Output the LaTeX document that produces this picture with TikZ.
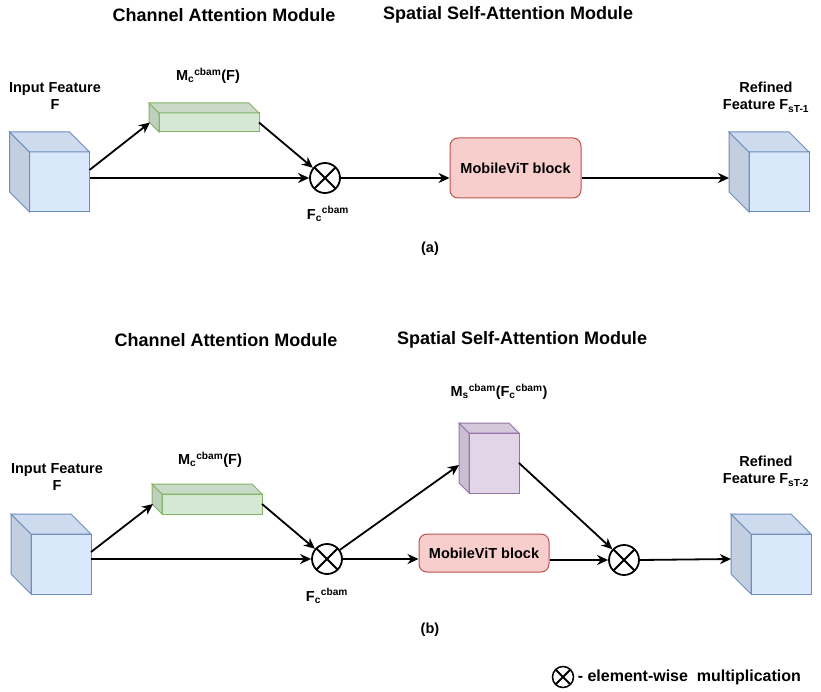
\documentclass[tikz,border=0pt]{standalone}
\usepackage{fontspec}
\setmainfont{Liberation Sans}
\usetikzlibrary{arrows.meta}

\definecolor{fblue}{HTML}{DAE8FC}
\definecolor{tblue}{HTML}{CEDBEF}
\definecolor{lblue}{HTML}{C3CEE0}
\definecolor{sblue}{HTML}{6C8EBF}
\definecolor{fgreen}{HTML}{D5E8D4}
\definecolor{tgreen}{HTML}{C9DBC8}
\definecolor{lgreen}{HTML}{BFD1BE}
\definecolor{sgreen}{HTML}{82B366}
\definecolor{fpurple}{HTML}{E1D5E7}
\definecolor{tpurple}{HTML}{D5C8DB}
\definecolor{lpurple}{HTML}{CABED0}
\definecolor{spurple}{HTML}{9673A6}
\definecolor{fred}{HTML}{F8CECC}
\definecolor{sred}{HTML}{B85450}

\tikzset{
every node/.style={font=\bfseries\fontsize{14.5}{17.5}\selectfont},
title/.style={font=\bfseries\fontsize{18}{21}\selectfont},
face/.style={draw=s#1, fill=f#1, line width=1pt, inner sep=0, outer sep=0},
vit/.style={draw=sred, fill=fred, line width=1pt, rounded corners=8pt},
flow/.style={-{Stealth[length=11pt,width=10pt]}, line width=1.8pt},
mult/.style={circle, draw, fill=white, line width=1.8pt, minimum size=30, inner sep=0,
  path picture={\draw[line width=1.8pt] (path picture bounding box.north west) -- (path picture bounding box.south east)
    (path picture bounding box.north east) -- (path picture bounding box.south west);}}
}

\begin{document}
\begin{tikzpicture}[x=1pt, y=-1pt]
    \useasboundingbox (0,0) rectangle (821,692);

    % (a)
    \node[title] (ca1) at (224,15) {Channel Attention Module};
    \node[title] (sa1) at (508,15) {Spatial Self-Attention Module};

    \node[face=blue, minimum width=60, minimum height=60] (in1) at (59.5,182) {};
    \node[face=green, minimum width=100, minimum height=19] (gate1) at (209,122.5) {};
    \node[mult] (mul1) at (325,178) {};
    \node[vit, minimum width=131, minimum height=60] (vit1) at (515.5,168) {MobileViT block};
    \node[face=blue, minimum width=60, minimum height=60] (out1) at (779,182) {};

    \node[align=center] at (55,96) {Input Feature\\F};
    \node at (208,76) {M\textsubscript{c}\textsuperscript{cbam}(F)};
    \node at (328,214) {F\textsubscript{c}\textsuperscript{cbam}};
    \node[align=center] at (766,97) {Refined\\Feature F\textsubscript{sT-1}};
    \node at (430,249) {(a)};

    % (b)
    \node[title] (ca2) at (226,340) {Channel Attention Module};
    \node[title] (sa2) at (522,340) {Spatial Self-Attention Module};

    \node[face=blue, minimum width=60, minimum height=60] (in2) at (61,564) {};
    \node[face=green, minimum width=100, minimum height=20] (gate2) at (212,504) {};
    \node[mult] (mul2) at (327,559) {};
    \node[face=purple, minimum width=50, minimum height=60] (spat) at (494,463) {};
    \node[vit, minimum width=130, minimum height=38] (vit2) at (484,553) {MobileViT block};
    \node[mult] (mul3) at (624,560) {};
    \node[face=blue, minimum width=60, minimum height=60] (out2) at (781,564) {};

    \node[align=center] at (57,477) {Input Feature\\F};
    \node at (210,460) {M\textsubscript{c}\textsuperscript{cbam}(F)};
    \node at (327,596) {F\textsubscript{c}\textsuperscript{cbam}};
    \node at (499,392) {M\textsubscript{s}\textsuperscript{cbam}(F\textsubscript{c}\textsuperscript{cbam})};
    \node[align=center] at (766,471) {Refined\\Feature F\textsubscript{sT-2}};
    \node at (430,630) {(b)};

    % cube sides
    \foreach \n/\d/\c in {in1/20/blue, out1/20/blue, gate1/10/green, in2/20/blue, out2/20/blue, gate2/10/green, spat/10/purple} {
        \draw[draw=s\c, fill=l\c, line width=1pt] (\n.south west) -- ++(-\d,-\d) |- ([shift={(-\d,-\d)}]\n.north west) -- (\n.north west) -- cycle;
        \draw[draw=s\c, fill=t\c, line width=1pt] (\n.north west) -- ++(-\d,-\d) -- ([shift={(-\d,-\d)}]\n.north east) -- (\n.north east) -- cycle;
    }

    \coordinate (out1in) at ([shift={(-20,-4)}]out1.west);
    \coordinate (out2in) at ([shift={(-20,-5)}]out2.west);

    \draw[flow] ([shift={(0,-12)}]in1.east) -- ([shift={(-9,0)}]gate1.west);
    \draw[flow] (in1.east |- mul1) -- (mul1);
    \draw[flow] (gate1.east) -- (mul1);
    \draw[flow] (mul1.east) -- (vit1.west |- mul1);
    \draw[flow] (vit1.east |- out1in) -- (out1in);

    \draw[flow] ([shift={(0,-12)}]in2.east) -- ([shift={(-9,0)}]gate2.west);
    \draw[flow] (in2.east |- mul2) -- (mul2);
    \draw[flow] (gate2.east) -- (mul2);
    \draw[flow] (mul2) -- ([shift={(-10,2)}]spat.west);
    \draw[flow] (mul2.east) -- (vit2.west |- mul2);
    \draw[flow] (spat.east) -- (mul3);
    \draw[flow] (vit2.east |- mul3) -- (mul3);
    \draw[flow] (mul3.east) -- (out2in);

    % legend
    \node[mult, minimum size=21, line width=1.5pt] (key) at (563,677) {};
    \node[anchor=west, font=\bfseries\fontsize{16}{19}\selectfont] at (key.east) {- element-wise\ \ multiplication};
\end{tikzpicture}
\end{document}
